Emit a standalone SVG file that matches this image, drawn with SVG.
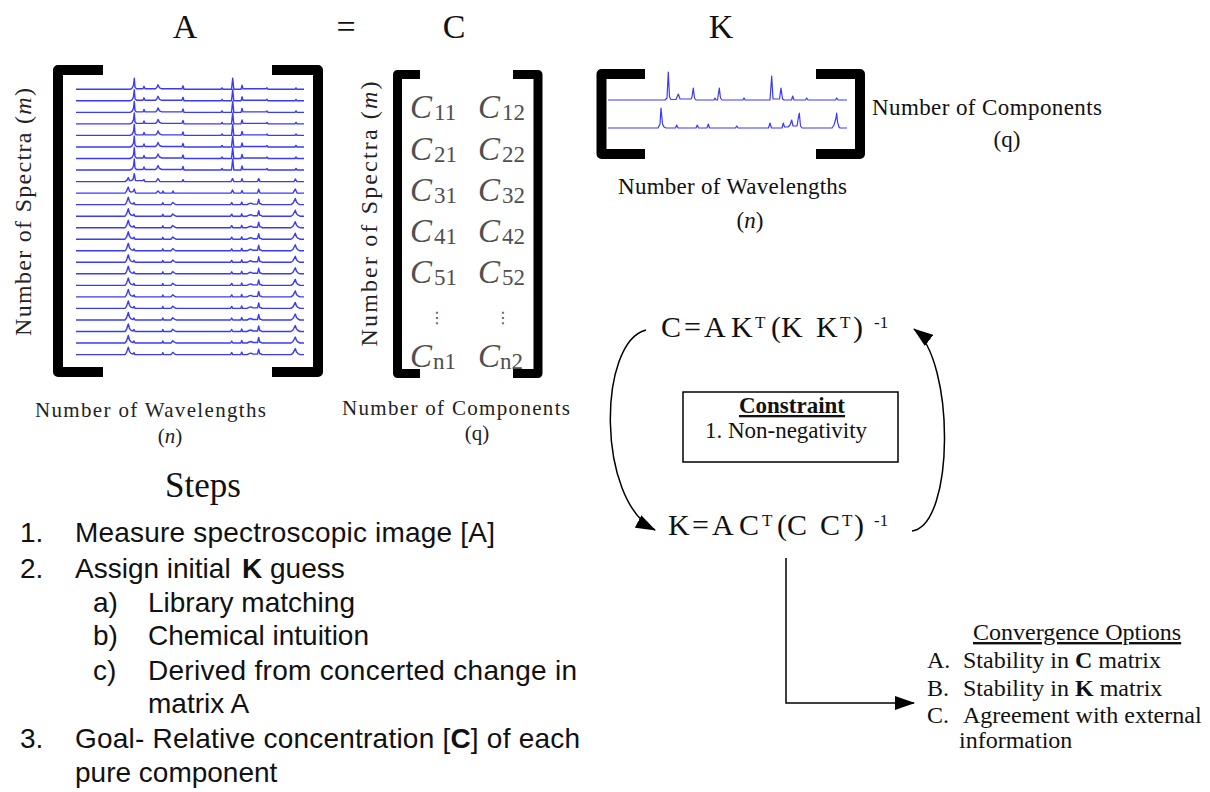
<svg xmlns="http://www.w3.org/2000/svg" xmlns:xlink="http://www.w3.org/1999/xlink" width="1210" height="792" viewBox="0 0 1210 792">
<style>
.serif{font-family:"Liberation Serif","Times New Roman",serif;fill:#111}
.lab{font-family:"Liberation Serif","Times New Roman",serif;fill:#222;font-size:21px}
.rlab{font-family:"Liberation Serif","Times New Roman",serif;fill:#222;font-size:24px;text-anchor:middle}
.klab{font-family:"Liberation Serif","Times New Roman",serif;fill:#111;font-size:23px}
.title{font-family:"Liberation Serif","Times New Roman",serif;fill:#111;font-size:34px;text-anchor:middle}
.sans{font-family:"Liberation Sans",Arial,sans-serif;fill:#111;font-size:28px}
.brk{fill:none;stroke:#000;stroke-linejoin:round}
.spec{fill:none;stroke:#3a3aff;stroke-width:1.4;stroke-linejoin:round}
.kspec{fill:none;stroke:#3a3aff;stroke-width:1.2;stroke-linejoin:round}
.ce{font-family:"Liberation Serif","Times New Roman",serif;fill:#505050;font-size:33px;font-style:italic}
.cs{font-size:23px;font-style:normal}
.eq{font-family:"Liberation Serif","Times New Roman",serif;fill:#111;font-size:30px}
.sup{font-size:17px}
.conn{fill:none;stroke:#000;stroke-width:1.5}
.conv{font-family:"Liberation Serif","Times New Roman",serif;fill:#111;font-size:24px}
</style>
<defs>
<marker id="arr" viewBox="0 0 20 14" refX="19" refY="7" markerWidth="20" markerHeight="14" orient="auto" markerUnits="userSpaceOnUse">
<path d="M0,0 L20,7 L0,14 z" fill="#000"/>
</marker>
<path id="sA" class="spec" d="M76,0 H130 L132,-1 L133.5,-4 L134.3,-11 L135,-2 L136.5,-0.5 H143 L144,-3 L145,-0.5 H155.5 L157,-2 L158,-4.5 L159.5,-1.5 L162,-0.5 H182 L183,-3.5 L184,0 H221 L222,-1.5 L223,0 H231.5 L232.7,-11 L233.8,0 H241 L242,-4 L243,-0.5 H266 L267,-1.5 L268,0 H295 L296,-1.5 L297,0 H304"/>
<path id="sB" class="spec" d="M76,0 H125 L126.5,-2 L128.3,-7.5 L129.5,-3 L131,-1.2 L133,-0.5 L134,-2 L135,0 H162 L162.8,-2 L163.6,0 H171 L172.7,-2.2 L174.5,-0.8 L176,0 H230.5 L231.7,-2 L232.8,0 H240.8 L241.7,-2.5 L242.6,0 H247 L249,-1 L251,-1.5 L253,-0.5 H257.5 L258.7,-5.5 L259.8,-0.8 H261 L262,0 H291 L293,-1.5 L295.3,-6 L296.5,-2.5 L298,-1 L300,0 H304"/>
<path id="sC" class="spec" d="M76,0 H125 L127,-1.5 L128.3,-4 L129.5,-1 L131,-1 L133,-2 L134.3,-8 L135.5,-1 H143 L144,-2 L145,0 H156 L158,-3 L160,0 H182 L183,-2 L184,0 H231 L232.5,-3 L234,0 H241 L242,-3 L243,0 H257.5 L258.7,-3 L260,0 H294 L295.3,-2.5 L297,0 H304"/>
<path id="sD" class="spec" d="M76,0 H125 L126.5,-2 L128.3,-6 L129.5,-2 L131,-1 L133,-1.5 L134.3,-4 L135.5,0 H156 L158,-2 L160,0 H162 L163,-2 L164,0 H172 L173,-2 L174,0 H231 L232.5,-3 L234,0 H241 L242,-2.5 L243,0 H257.5 L258.7,-4 L260,0 H293 L295.3,-4 L297,0 H304"/>
</defs>
<rect width="1210" height="792" fill="#fff"/>

<g id="title">
<text class="title" x="185" y="38">A</text>
<text class="title" x="346" y="38">=</text>
<text class="title" x="454" y="38">C</text>
<text class="title" x="721" y="38">K</text>
</g>

<g id="matrixA">
<path class="brk" stroke-width="10" d="M103,70 H58 V372 H103"/>
<path class="brk" stroke-width="10" d="M272,70 H318 V372 H272"/>
<use xlink:href="#sA" y="89.3"/>
<use xlink:href="#sA" y="100.8"/>
<use xlink:href="#sA" y="112.4"/>
<use xlink:href="#sA" y="123.9"/>
<use xlink:href="#sA" y="135.4"/>
<use xlink:href="#sA" y="147.0"/>
<use xlink:href="#sA" y="158.5"/>
<use xlink:href="#sA" y="170.0"/>
<use xlink:href="#sC" y="181.6"/>
<use xlink:href="#sD" y="193.1"/>
<use xlink:href="#sB" y="204.6"/>
<use xlink:href="#sB" y="216.2"/>
<use xlink:href="#sB" y="227.7"/>
<use xlink:href="#sB" y="239.2"/>
<use xlink:href="#sB" y="250.8"/>
<use xlink:href="#sB" y="262.3"/>
<use xlink:href="#sB" y="273.8"/>
<use xlink:href="#sB" y="285.4"/>
<use xlink:href="#sB" y="296.9"/>
<use xlink:href="#sB" y="308.4"/>
<use xlink:href="#sB" y="320.0"/>
<use xlink:href="#sB" y="331.5"/>
<use xlink:href="#sB" y="343.0"/>
<use xlink:href="#sB" y="354.6"/>
<text class="rlab" textLength="248" lengthAdjust="spacing" transform="translate(31,212) rotate(-90)">Number of Spectra (<tspan font-style="italic">m</tspan>)</text>
<text class="lab" x="35" y="417" textLength="231" lengthAdjust="spacing">Number of Wavelengths</text>
<text class="lab" x="170" y="443" text-anchor="middle">(<tspan font-style="italic">n</tspan>)</text>
</g>

<g id="matrixC">
<path class="brk" stroke-width="9" d="M420,74.5 H397.5 V373.5 H420"/>
<path class="brk" stroke-width="9" d="M513,74.5 H538 V373.5 H513"/>
<text class="ce" x="410" y="118">C<tspan class="cs" x="434" y="120">11</tspan></text>
<text class="ce" x="478" y="118">C<tspan class="cs" x="502" y="120">12</tspan></text>
<text class="ce" x="410" y="160">C<tspan class="cs" x="434" y="162">21</tspan></text>
<text class="ce" x="478" y="160">C<tspan class="cs" x="502" y="162">22</tspan></text>
<text class="ce" x="410" y="201">C<tspan class="cs" x="434" y="203">31</tspan></text>
<text class="ce" x="478" y="201">C<tspan class="cs" x="502" y="203">32</tspan></text>
<text class="ce" x="410" y="242">C<tspan class="cs" x="434" y="244">41</tspan></text>
<text class="ce" x="478" y="242">C<tspan class="cs" x="502" y="244">42</tspan></text>
<text class="ce" x="410" y="283">C<tspan class="cs" x="434" y="285">51</tspan></text>
<text class="ce" x="478" y="283">C<tspan class="cs" x="502" y="285">52</tspan></text>
<text font-family="DejaVu Sans,sans-serif" font-size="16" fill="#555" text-anchor="middle" x="437" y="323">⋮</text>
<text font-family="DejaVu Sans,sans-serif" font-size="16" fill="#555" text-anchor="middle" x="503" y="323">⋮</text>
<text class="ce" x="410" y="367">C<tspan class="cs" x="433" y="369" font-style="italic">n</tspan><tspan class="cs" y="369">1</tspan></text>
<text class="ce" x="478" y="367">C<tspan class="cs" x="500" y="369" font-style="italic">n</tspan><tspan class="cs" y="369">2</tspan></text>
<text class="rlab" textLength="265" lengthAdjust="spacing" transform="translate(377,214) rotate(-90)">Number of Spectra (<tspan font-style="italic">m</tspan>)</text>
<text class="lab" x="342" y="415" textLength="228" lengthAdjust="spacing">Number of Components</text>
<text class="lab" x="477" y="440" text-anchor="middle">(q)</text>
</g>

<g id="matrixK">
<path class="brk" stroke-width="10" d="M645,74 H601.5 V154 H645"/>
<path class="brk" stroke-width="10" d="M816,74 H860 V154 H816"/>
<path class="kspec" d="M608,100 H665 L667,98 L668.3,72 L669.5,97 L671,99.5 H676 L678.3,94 L680,99 H691 L692,97 L693.3,88 L694.5,98 L696,100 H714 L715,98 L716,100 H717.5 L719.3,88 L720.5,98 L722,100 H743 L744,98 L745,100 H770 L771.7,76 L773,99 H779.5 L781,88 L782.5,99 L784,100 H791.5 L792.7,96 L794,100 H805.5 L806.7,98 L808,100 H835.5 L836.7,98 L838,100 H847"/>
<path class="kspec" d="M608,128 H658 L660,124 L661,108 L662.5,124 L664,127 L666,128 H675.5 L676.7,125 L678,128 H696 L697.3,125 L698.5,128 H707 L708.3,124 L709.5,128 H735.5 L736.7,126 L738,128 H768.5 L770,123 L771.5,128 H782 L783.3,123 L784.5,127 H788 L790,125 L791.7,120 L793,126 H797 L798.3,118 L799.3,113 L800.5,126 L802,128 H832 L834,125 L836,118 L836.7,113 L837.5,122 L839,127 L840,128 H847"/>
<text class="klab" x="872" y="115" textLength="230" lengthAdjust="spacing">Number of Components</text>
<text class="klab" x="1007" y="147" text-anchor="middle">(q)</text>
<text class="klab" x="618" y="194" textLength="229" lengthAdjust="spacing">Number of Wavelengths</text>
<text class="klab" x="750" y="228" text-anchor="middle">(<tspan font-style="italic">n</tspan>)</text>
</g>

<g id="eqC">
<text class="eq" y="337"><tspan x="661">C</tspan><tspan x="684">=</tspan><tspan x="704">A</tspan><tspan x="731">K</tspan><tspan class="sup" x="755" y="328">T</tspan><tspan x="771" y="337">(K</tspan><tspan x="816">K</tspan><tspan class="sup" x="840" y="328">T</tspan><tspan x="853" y="337">)</tspan><tspan class="sup" x="874" y="328">-1</tspan></text>
</g>

<g id="eqK">
<text class="eq" y="535"><tspan x="668">K</tspan><tspan x="692">=</tspan><tspan x="712">A</tspan><tspan x="739">C</tspan><tspan class="sup" x="762" y="526">T</tspan><tspan x="777" y="535">(C</tspan><tspan x="820">C</tspan><tspan class="sup" x="842" y="526">T</tspan><tspan x="854" y="535">)</tspan><tspan class="sup" x="874" y="526">-1</tspan></text>
</g>

<g id="constraint">
<rect x="683" y="392" width="215" height="70" fill="#fff" stroke="#000" stroke-width="1.5"/>
<text class="serif" x="792" y="413" font-size="23" font-weight="bold" text-anchor="middle" text-decoration="underline">Constraint</text>
<text class="serif" x="786" y="438" font-size="23" text-anchor="middle">1. Non-negativity</text>
</g>

<g id="convergence">
<text class="conv" x="973" y="640" text-decoration="underline">Convergence Options</text>
<text class="conv" x="927" y="668">A.</text>
<text class="conv" x="963" y="668">Stability in <tspan font-weight="bold">C</tspan> matrix</text>
<text class="conv" x="927" y="696">B.</text>
<text class="conv" x="963" y="696">Stability in <tspan font-weight="bold">K</tspan> matrix</text>
<text class="conv" x="927" y="723">C.</text>
<text class="conv" x="963" y="723">Agreement with external</text>
<text class="conv" x="959" y="748">information</text>
</g>

<g id="steps">
<text class="serif" x="165" y="497" font-size="35">Steps</text>
<text class="sans" x="20" y="542">1.</text>
<text class="sans" x="75" y="542" textLength="420" lengthAdjust="spacing">Measure spectroscopic image [A]</text>
<text class="sans" x="20" y="578">2.</text>
<text class="sans" x="75" y="578">Assign initial</text>
<text class="sans" x="242" y="578" font-weight="bold">K</text>
<text class="sans" x="270" y="578">guess</text>
<text class="sans" x="93" y="612">a)</text>
<text class="sans" x="148" y="612">Library matching</text>
<text class="sans" x="93" y="645">b)</text>
<text class="sans" x="148" y="645">Chemical intuition</text>
<text class="sans" x="93" y="680">c)</text>
<text class="sans" x="148" y="680" textLength="429" lengthAdjust="spacing">Derived from concerted change in</text>
<text class="sans" x="148" y="713">matrix A</text>
<text class="sans" x="20" y="748">3.</text>
<text class="sans" x="75" y="748" textLength="505" lengthAdjust="spacing">Goal- Relative concentration [<tspan font-weight="bold">C</tspan>] of each</text>
<text class="sans" x="75" y="782">pure component</text>
</g>

<g id="connectors">
<path class="conn" d="M646,330 C598,342 596,500 655,530" marker-end="url(#arr)"/>
<path class="conn" d="M912,531 C955,525 955,360 914,329" marker-end="url(#arr)"/>
<path class="conn" d="M786,558 V703 H914" marker-end="url(#arr)"/>
</g>
</svg>
